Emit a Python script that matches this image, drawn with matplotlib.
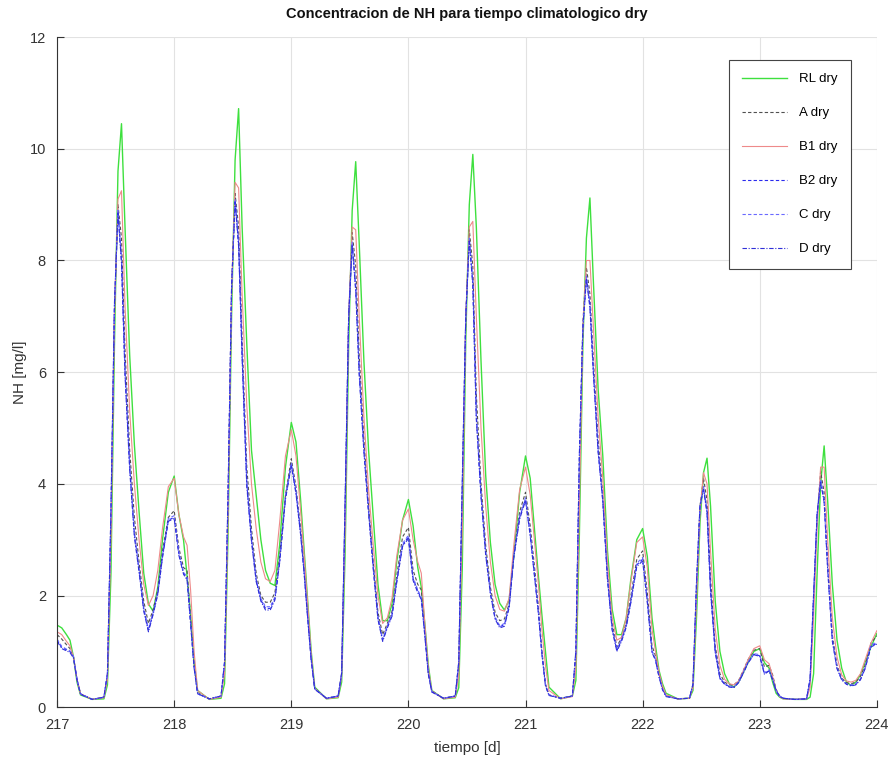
import matplotlib
matplotlib.use("Agg")
import matplotlib.pyplot as plt

plt.rcParams['font.family'] = ['Liberation Sans', 'DejaVu Sans']

# sample times [d]
tiempo = [
    217.00, 217.04, 217.08, 217.11, 217.14, 217.17, 217.20, 217.30, 217.40, 217.43, 217.46, 217.49,
    217.52, 217.55, 217.58, 217.62, 217.66, 217.70, 217.74, 217.78, 217.82, 217.86, 217.90, 217.95,
    218.00, 218.04, 218.08, 218.11, 218.14, 218.17, 218.20, 218.30, 218.40, 218.43, 218.46, 218.49,
    218.52, 218.55, 218.58, 218.62, 218.66, 218.70, 218.74, 218.78, 218.82, 218.86, 218.90, 218.95,
    219.00, 219.04, 219.08, 219.11, 219.14, 219.17, 219.20, 219.30, 219.40, 219.43, 219.46, 219.49,
    219.52, 219.55, 219.58, 219.62, 219.66, 219.70, 219.74, 219.78, 219.82, 219.86, 219.90, 219.95,
    220.00, 220.04, 220.08, 220.11, 220.14, 220.17, 220.20, 220.30, 220.40, 220.43, 220.46, 220.49,
    220.52, 220.55, 220.58, 220.62, 220.66, 220.70, 220.74, 220.78, 220.82, 220.86, 220.90, 220.95,
    221.00, 221.04, 221.08, 221.11, 221.14, 221.17, 221.20, 221.30, 221.40, 221.43, 221.46, 221.49,
    221.52, 221.55, 221.58, 221.62, 221.66, 221.70, 221.74, 221.78, 221.82, 221.86, 221.90, 221.95,
    222.00, 222.04, 222.08, 222.11, 222.14, 222.17, 222.20, 222.30, 222.40, 222.43, 222.46, 222.49,
    222.52, 222.55, 222.58, 222.62, 222.66, 222.70, 222.74, 222.78, 222.82, 222.86, 222.90, 222.95,
    223.00, 223.04, 223.08, 223.11, 223.14, 223.17, 223.20, 223.30, 223.40, 223.43, 223.46, 223.49,
    223.52, 223.55, 223.58, 223.62, 223.66, 223.70, 223.74, 223.78, 223.82, 223.86, 223.90, 223.95,
    224.00]

nh_RL = [
    1.47, 1.42, 1.30, 1.20, 0.90, 0.45, 0.22, 0.14, 0.15, 0.40, 2.40, 6.50,
    9.60, 10.45, 8.60, 6.30, 4.70, 3.50, 2.40, 1.85, 1.72, 2.15, 3.00, 3.85,
    4.14, 3.45, 2.99, 2.35, 1.65, 0.80, 0.30, 0.14, 0.16, 0.42, 3.10, 7.00,
    9.80, 10.72, 8.60, 6.50, 4.60, 3.80, 3.00, 2.45, 2.22, 2.18, 2.90, 4.30,
    5.10, 4.75, 3.70, 2.80, 1.90, 1.00, 0.36, 0.15, 0.17, 0.45, 2.80, 6.50,
    8.90, 9.77, 8.30, 6.20, 4.60, 3.40, 2.20, 1.55, 1.55, 1.85, 2.60, 3.35,
    3.72, 3.25, 2.50, 2.15, 1.50, 0.75, 0.30, 0.15, 0.17, 0.35, 2.50, 6.60,
    9.00, 9.90, 8.60, 6.20, 4.15, 2.95, 2.20, 1.86, 1.74, 1.92, 2.70, 3.85,
    4.50, 4.10, 3.10, 2.35, 1.65, 1.00, 0.36, 0.15, 0.20, 0.48, 3.10, 6.50,
    8.40, 9.12, 7.60, 5.70, 4.50, 2.80, 1.75, 1.30, 1.30, 1.60, 2.30, 3.00,
    3.20, 2.70, 1.60, 1.10, 0.66, 0.42, 0.25, 0.15, 0.16, 0.30, 1.60, 3.30,
    4.20, 4.46, 3.60, 1.90, 1.00, 0.60, 0.42, 0.36, 0.45, 0.62, 0.80, 1.00,
    1.05, 0.80, 0.70, 0.45, 0.25, 0.18, 0.15, 0.14, 0.14, 0.18, 0.60, 2.40,
    4.00, 4.68, 3.70, 2.20, 1.20, 0.70, 0.45, 0.39, 0.45, 0.58, 0.80, 1.08,
    1.32]

nh_A = [
    1.30, 1.22, 1.12, 1.05, 0.90, 0.50, 0.24, 0.14, 0.18, 0.55, 3.30, 7.10,
    9.00, 8.40, 6.40, 4.60, 3.40, 2.60, 1.90, 1.50, 1.75, 2.10, 2.80, 3.40,
    3.52, 2.85, 2.50, 2.45, 1.60, 0.75, 0.26, 0.15, 0.20, 0.75, 3.70, 7.50,
    9.20, 8.60, 6.60, 4.30, 3.20, 2.40, 2.00, 1.88, 1.88, 2.05, 2.70, 3.80,
    4.45, 3.95, 3.20, 2.50, 1.65, 0.88, 0.34, 0.16, 0.20, 0.60, 3.60, 7.00,
    8.50, 7.90, 6.30, 4.80, 3.60, 2.60, 1.70, 1.30, 1.50, 1.72, 2.35, 3.05,
    3.22, 2.45, 2.20, 2.10, 1.40, 0.62, 0.29, 0.16, 0.20, 0.75, 3.80, 7.00,
    8.55, 7.90, 5.60, 4.00, 2.90, 2.15, 1.70, 1.55, 1.58, 1.85, 2.75, 3.50,
    3.85, 3.25, 2.45, 1.80, 1.02, 0.42, 0.22, 0.16, 0.20, 0.90, 4.30, 6.90,
    7.88, 7.40, 6.20, 4.80, 3.80, 2.40, 1.50, 1.08, 1.25, 1.50, 2.00, 2.65,
    2.80, 2.05, 1.10, 0.92, 0.60, 0.35, 0.21, 0.15, 0.16, 0.40, 2.10, 3.60,
    4.10, 3.70, 2.30, 1.10, 0.60, 0.45, 0.40, 0.40, 0.48, 0.66, 0.85, 1.02,
    1.05, 0.72, 0.75, 0.58, 0.32, 0.20, 0.16, 0.14, 0.15, 0.45, 1.90, 3.40,
    4.22, 3.85, 2.60, 1.30, 0.75, 0.52, 0.44, 0.42, 0.45, 0.55, 0.75, 1.15,
    1.28]

nh_B1 = [
    1.35, 1.30, 1.18, 1.10, 0.90, 0.50, 0.24, 0.14, 0.17, 0.50, 3.00, 7.00,
    9.10, 9.25, 7.20, 5.30, 4.00, 3.00, 2.20, 1.82, 2.00, 2.45, 3.20, 3.95,
    4.10, 3.45, 3.05, 2.90, 2.10, 1.00, 0.30, 0.14, 0.18, 0.60, 3.40, 7.40,
    9.40, 9.30, 7.40, 5.40, 4.00, 3.20, 2.60, 2.30, 2.25, 2.45, 3.30, 4.50,
    4.97, 4.50, 3.50, 2.70, 1.85, 0.95, 0.34, 0.15, 0.18, 0.55, 3.20, 7.00,
    8.60, 8.55, 7.00, 5.20, 3.90, 2.90, 2.00, 1.50, 1.60, 1.95, 2.70, 3.35,
    3.55, 3.00, 2.60, 2.40, 1.50, 0.70, 0.29, 0.15, 0.18, 0.55, 3.20, 7.00,
    8.60, 8.70, 7.00, 5.00, 3.60, 2.60, 2.00, 1.75, 1.72, 1.95, 2.90, 3.90,
    4.30, 3.80, 2.90, 2.20, 1.40, 0.75, 0.30, 0.15, 0.19, 0.70, 3.60, 6.80,
    8.00, 8.00, 6.80, 5.20, 4.10, 2.60, 1.60, 1.20, 1.25, 1.60, 2.25, 2.95,
    3.05, 2.50, 1.40, 1.00, 0.62, 0.38, 0.22, 0.15, 0.16, 0.35, 1.90, 3.50,
    4.20, 4.00, 2.80, 1.40, 0.75, 0.50, 0.42, 0.40, 0.47, 0.65, 0.85, 1.05,
    1.10, 0.85, 0.78, 0.55, 0.30, 0.19, 0.15, 0.14, 0.15, 0.35, 1.60, 3.20,
    4.30, 4.30, 3.00, 1.60, 0.90, 0.58, 0.47, 0.45, 0.48, 0.60, 0.85, 1.15,
    1.37]

nh_B2 = [
    1.20, 1.07, 1.03, 1.00, 0.90, 0.50, 0.24, 0.14, 0.18, 0.60, 3.50, 7.20,
    8.87, 8.00, 6.00, 4.30, 3.10, 2.45, 1.75, 1.38, 1.68, 2.04, 2.70, 3.35,
    3.40, 2.75, 2.40, 2.30, 1.50, 0.72, 0.24, 0.15, 0.20, 0.80, 3.80, 7.50,
    9.07, 8.30, 6.30, 4.00, 3.00, 2.28, 1.92, 1.77, 1.77, 1.95, 2.60, 3.75,
    4.35, 3.85, 3.10, 2.40, 1.60, 0.85, 0.33, 0.16, 0.20, 0.60, 3.70, 7.00,
    8.30, 7.50, 6.00, 4.60, 3.50, 2.50, 1.60, 1.20, 1.44, 1.65, 2.25, 2.90,
    3.05, 2.30, 2.08, 1.95, 1.30, 0.60, 0.28, 0.16, 0.20, 0.80, 4.00, 7.00,
    8.37, 7.60, 5.20, 3.80, 2.75, 2.05, 1.60, 1.44, 1.48, 1.80, 2.70, 3.40,
    3.72, 3.10, 2.30, 1.70, 0.96, 0.40, 0.22, 0.16, 0.20, 1.00, 4.50, 6.80,
    7.69, 7.20, 6.00, 4.60, 3.70, 2.30, 1.40, 1.02, 1.20, 1.45, 1.90, 2.55,
    2.65, 1.90, 1.00, 0.85, 0.55, 0.32, 0.20, 0.15, 0.16, 0.40, 2.20, 3.60,
    3.92, 3.50, 2.10, 1.00, 0.52, 0.42, 0.37, 0.36, 0.45, 0.62, 0.80, 0.95,
    0.92, 0.60, 0.66, 0.50, 0.30, 0.20, 0.16, 0.14, 0.15, 0.50, 2.00, 3.45,
    4.05, 3.70, 2.50, 1.20, 0.70, 0.50, 0.42, 0.39, 0.41, 0.50, 0.70, 1.10,
    1.14]

nh_C = [
    1.22, 1.09, 1.04, 1.01, 0.91, 0.51, 0.24, 0.14, 0.18, 0.58, 3.45, 7.15,
    8.90, 8.05, 6.05, 4.35, 3.15, 2.48, 1.78, 1.40, 1.70, 2.06, 2.72, 3.38,
    3.43, 2.78, 2.42, 2.33, 1.52, 0.73, 0.25, 0.15, 0.20, 0.78, 3.75, 7.45,
    9.10, 8.35, 6.35, 4.05, 3.03, 2.30, 1.95, 1.80, 1.80, 1.97, 2.62, 3.78,
    4.38, 3.88, 3.12, 2.42, 1.62, 0.86, 0.33, 0.16, 0.20, 0.58, 3.65, 6.98,
    8.33, 7.55, 6.05, 4.63, 3.52, 2.52, 1.62, 1.22, 1.46, 1.67, 2.27, 2.93,
    3.08, 2.33, 2.10, 1.97, 1.32, 0.61, 0.28, 0.16, 0.20, 0.78, 3.95, 6.98,
    8.40, 7.65, 5.25, 3.83, 2.78, 2.07, 1.62, 1.46, 1.50, 1.82, 2.72, 3.43,
    3.75, 3.13, 2.32, 1.72, 0.97, 0.40, 0.22, 0.16, 0.20, 0.98, 4.45, 6.80,
    7.72, 7.25, 6.05, 4.63, 3.72, 2.32, 1.42, 1.04, 1.22, 1.47, 1.92, 2.58,
    2.68, 1.92, 1.02, 0.86, 0.56, 0.33, 0.20, 0.15, 0.16, 0.40, 2.15, 3.58,
    3.95, 3.53, 2.13, 1.02, 0.53, 0.42, 0.38, 0.37, 0.45, 0.63, 0.81, 0.96,
    0.94, 0.62, 0.67, 0.51, 0.30, 0.20, 0.16, 0.14, 0.15, 0.48, 1.98, 3.43,
    4.08, 3.73, 2.53, 1.22, 0.71, 0.50, 0.42, 0.40, 0.42, 0.51, 0.71, 1.12,
    1.16]

nh_D = [
    1.18, 1.05, 1.01, 0.98, 0.88, 0.49, 0.23, 0.14, 0.18, 0.62, 3.55, 7.25,
    8.85, 7.95, 5.95, 4.25, 3.05, 2.42, 1.72, 1.35, 1.66, 2.02, 2.68, 3.33,
    3.38, 2.72, 2.38, 2.28, 1.48, 0.70, 0.24, 0.15, 0.20, 0.82, 3.85, 7.55,
    9.05, 8.25, 6.25, 3.95, 2.97, 2.25, 1.90, 1.74, 1.74, 1.92, 2.58, 3.72,
    4.33, 3.82, 3.08, 2.38, 1.58, 0.84, 0.32, 0.16, 0.20, 0.62, 3.75, 7.02,
    8.28, 7.45, 5.95, 4.57, 3.47, 2.47, 1.57, 1.18, 1.42, 1.63, 2.23, 2.88,
    3.02, 2.27, 2.05, 1.93, 1.28, 0.59, 0.27, 0.16, 0.20, 0.82, 4.05, 7.02,
    8.35, 7.55, 5.15, 3.77, 2.72, 2.03, 1.58, 1.42, 1.45, 1.78, 2.68, 3.37,
    3.70, 3.07, 2.28, 1.68, 0.95, 0.39, 0.21, 0.16, 0.20, 1.02, 4.55, 6.80,
    7.67, 7.15, 5.95, 4.57, 3.68, 2.28, 1.38, 1.00, 1.18, 1.43, 1.88, 2.52,
    2.62, 1.88, 0.98, 0.84, 0.54, 0.31, 0.19, 0.15, 0.16, 0.42, 2.25, 3.62,
    3.90, 3.47, 2.07, 0.98, 0.51, 0.41, 0.36, 0.35, 0.44, 0.61, 0.79, 0.94,
    0.91, 0.59, 0.65, 0.49, 0.29, 0.19, 0.16, 0.14, 0.15, 0.52, 2.02, 3.47,
    4.03, 3.67, 2.47, 1.18, 0.69, 0.49, 0.41, 0.38, 0.40, 0.49, 0.69, 1.08,
    1.13]

dias = [217, 218, 219, 220, 221, 222, 223, 224]
niveles = [0, 2, 4, 6, 8, 10, 12]

fig = plt.figure(figsize=(8.92, 7.58), dpi=100)
ax = fig.add_axes([0.064, 0.067, 0.919, 0.884])

ax.plot(tiempo, nh_RL, color='#3ee03e', lw=1.0, label='RL dry')
ax.plot(tiempo, nh_A, color='#505050', lw=0.8, ls=(0, (3, 2)), label='A dry')
ax.plot(tiempo, nh_B1, color='#ee8a8a', lw=0.8, label='B1 dry')
ax.plot(tiempo, nh_B2, color='#2a2aee', lw=0.8, ls=(0, (3, 2)), label='B2 dry')
ax.plot(tiempo, nh_C, color='#6a6aff', lw=0.8, ls=(0, (3, 2)), label='C dry')
ax.plot(tiempo, nh_D, color='#3030d8', lw=0.8, ls=(0, (4, 1.5, 1, 1.5)), label='D dry')

ax.set_xlim(217, 224)
ax.set_ylim(0, 12)
ax.set_xticks(dias)
ax.set_yticks(niveles)
ax.grid(True, color='#e2e2e2', lw=0.8)
ax.set_axisbelow(True)
for s in ['top', 'right']:
    ax.spines[s].set_visible(False)
for s in ['left', 'bottom']:
    ax.spines[s].set_color('#333333')
    ax.spines[s].set_linewidth(0.8)
ax.tick_params(direction='in', length=5, width=0.8, colors='#333333', labelsize=10.5, pad=8)

ax.set_title('Concentracion de NH para tiempo climatologico dry', fontsize=10.5,
             fontweight='bold', pad=14, color='#111111')
ax.set_xlabel('tiempo [d]', fontsize=11, color='#333333', labelpad=6)
ax.set_ylabel('NH [mg/l]', fontsize=11, color='#333333', labelpad=2)

leg = ax.legend(loc='upper right', bbox_to_anchor=(0.968, 0.966), borderaxespad=0,
                fontsize=9.5, labelspacing=1.65, handlelength=3.4, handletextpad=0.9,
                borderpad=1.0, fancybox=False, framealpha=1)
leg.get_frame().set_edgecolor('#444444')
leg.get_frame().set_linewidth(0.8)

fig.savefig('out.png', dpi=100)
